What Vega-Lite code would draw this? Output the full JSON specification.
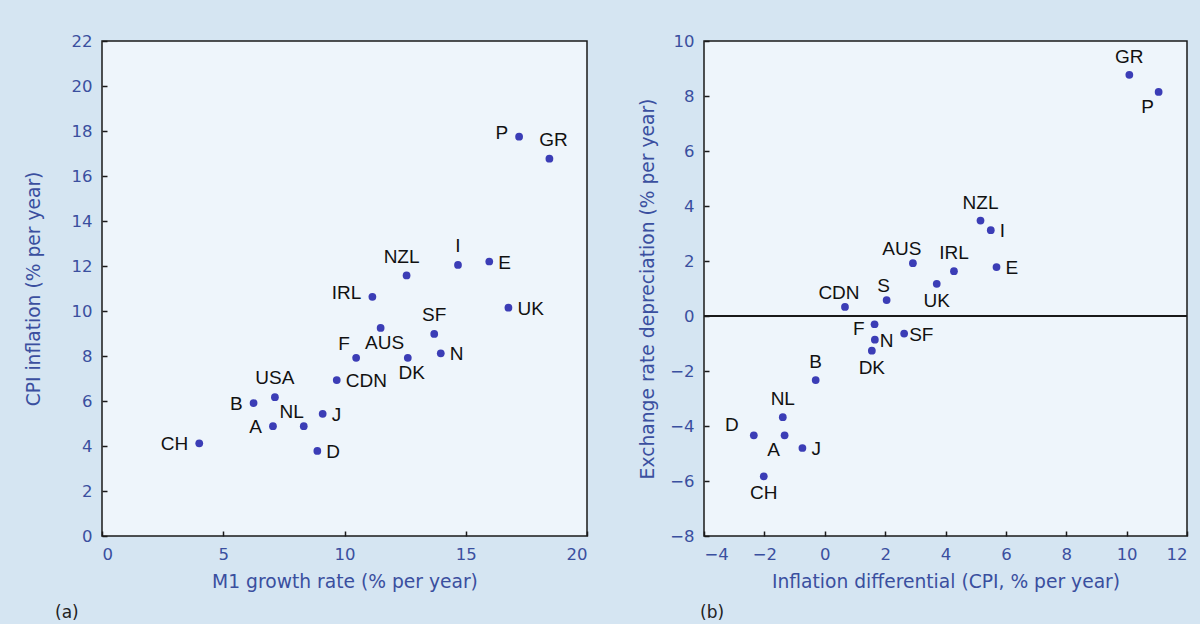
{
  "$schema": "https://vega.github.io/schema/vega-lite/v6.json",
  "background": "#d5e5f2",
  "padding": {"left": 23, "top": 32, "right": 11, "bottom": 2},
  "bounds": "flush",
  "spacing": 117,
  "datasets": {
    "a": [
      {"c": "P", "m1": 17.2, "cpi": 17.75},
      {"c": "GR", "m1": 18.45, "cpi": 16.77},
      {"c": "I", "m1": 14.68, "cpi": 12.05},
      {"c": "E", "m1": 15.97, "cpi": 12.2},
      {"c": "NZL", "m1": 12.56, "cpi": 11.58},
      {"c": "IRL", "m1": 11.15, "cpi": 10.63},
      {"c": "UK", "m1": 16.76, "cpi": 10.15},
      {"c": "AUS", "m1": 11.49, "cpi": 9.25},
      {"c": "SF", "m1": 13.7, "cpi": 8.98},
      {"c": "N", "m1": 13.97, "cpi": 8.12},
      {"c": "F", "m1": 10.48, "cpi": 7.92},
      {"c": "DK", "m1": 12.61, "cpi": 7.92},
      {"c": "CDN", "m1": 9.68, "cpi": 6.93},
      {"c": "USA", "m1": 7.13, "cpi": 6.17},
      {"c": "B", "m1": 6.25, "cpi": 5.91},
      {"c": "J", "m1": 9.1, "cpi": 5.43},
      {"c": "A", "m1": 7.05, "cpi": 4.88},
      {"c": "NL", "m1": 8.32, "cpi": 4.88},
      {"c": "CH", "m1": 4.01, "cpi": 4.12},
      {"c": "D", "m1": 8.88, "cpi": 3.78}
    ],
    "b": [
      {"c": "GR", "diff": 10.09, "dep": 8.77},
      {"c": "P", "diff": 11.06, "dep": 8.15},
      {"c": "NZL", "diff": 5.16, "dep": 3.47},
      {"c": "I", "diff": 5.5, "dep": 3.12},
      {"c": "AUS", "diff": 2.92, "dep": 1.92},
      {"c": "IRL", "diff": 4.28, "dep": 1.63},
      {"c": "E", "diff": 5.69, "dep": 1.78},
      {"c": "UK", "diff": 3.71, "dep": 1.17},
      {"c": "S", "diff": 2.05, "dep": 0.58},
      {"c": "CDN", "diff": 0.67, "dep": 0.33},
      {"c": "F", "diff": 1.65, "dep": -0.3},
      {"c": "SF", "diff": 2.63, "dep": -0.64},
      {"c": "N", "diff": 1.66, "dep": -0.86},
      {"c": "DK", "diff": 1.56, "dep": -1.26},
      {"c": "B", "diff": -0.3, "dep": -2.33},
      {"c": "NL", "diff": -1.39, "dep": -3.68},
      {"c": "D", "diff": -2.35, "dep": -4.34},
      {"c": "A", "diff": -1.33, "dep": -4.34},
      {"c": "J", "diff": -0.74, "dep": -4.8},
      {"c": "CH", "diff": -2.02, "dep": -5.83}
    ]
  },
  "config": {
    "view": {"fill": "#eef5fb", "stroke": "#1a1a1a", "strokeWidth": 1.5},
    "axis": {
      "grid": false,
      "domain": false,
      "offset": -5,
      "tickColor": "#1a1a1a",
      "tickSize": 5,
      "tickWidth": 1.5,
      "labelFont": "DejaVu Sans",
      "labelFontSize": 16.5,
      "labelColor": "#3a4f9f",
      "labelPadding": 10,
      "titleFont": "DejaVu Sans",
      "titleFontSize": 18.7,
      "titleFontWeight": "normal",
      "titleColor": "#3a4f9f"
    },
    "title": {"font": "DejaVu Sans", "fontSize": 17, "fontWeight": "normal", "color": "#222222"}
  },
  "hconcat": [
    {
      "width": 485,
      "height": 495,
      "data": {"name": "a"},
      "title": {"text": "(a)", "orient": "bottom", "anchor": "start", "frame": "group", "dx": -47, "offset": 14},
      "encoding": {
        "x": {"field": "m1", "type": "quantitative", "scale": {"domain": [0, 20], "nice": false, "zero": false},
              "axis": {"values": [0, 5, 10, 15, 20], "title": "M1 growth rate (% per year)", "titlePadding": 10}},
        "y": {"field": "cpi", "type": "quantitative", "scale": {"domain": [0, 22], "nice": false, "zero": false},
              "axis": {"values": [0, 2, 4, 6, 8, 10, 12, 14, 16, 18, 20, 22], "title": "CPI inflation (% per year)", "titlePadding": 28}}
      },
      "layer": [
        {"mark": {"type": "point", "filled": true, "size": 60, "color": "#3b3db6", "opacity": 1}},
        {"transform": [{"filter": {"field": "c", "oneOf": ["I", "SF", "USA"]}}],
         "mark": {"type": "text", "font": "Liberation Sans", "fontSize": 19, "color": "#111111", "align": "center", "baseline": "middle", "dy": -19},
         "encoding": {"text": {"field": "c"}}},
        {"transform": [{"filter": {"field": "c", "oneOf": ["GR"]}}],
         "mark": {"type": "text", "font": "Liberation Sans", "fontSize": 19, "color": "#111111", "align": "center", "baseline": "middle", "dy": -19, "dx": 4},
         "encoding": {"text": {"field": "c"}}},
        {"transform": [{"filter": {"field": "c", "oneOf": ["NZL"]}}],
         "mark": {"type": "text", "font": "Liberation Sans", "fontSize": 19, "color": "#111111", "align": "center", "baseline": "middle", "dy": -18, "dx": -5},
         "encoding": {"text": {"field": "c"}}},
        {"transform": [{"filter": {"field": "c", "oneOf": ["AUS", "DK"]}}],
         "mark": {"type": "text", "font": "Liberation Sans", "fontSize": 19, "color": "#111111", "align": "center", "baseline": "middle", "dy": 15, "dx": 4},
         "encoding": {"text": {"field": "c"}}},
        {"transform": [{"filter": {"field": "c", "oneOf": ["B", "A", "CH"]}}],
         "mark": {"type": "text", "font": "Liberation Sans", "fontSize": 19, "color": "#111111", "align": "right", "baseline": "middle", "dx": -11, "dy": 1},
         "encoding": {"text": {"field": "c"}}},
        {"transform": [{"filter": {"field": "c", "oneOf": ["P", "IRL"]}}],
         "mark": {"type": "text", "font": "Liberation Sans", "fontSize": 19, "color": "#111111", "align": "right", "baseline": "middle", "dx": -11, "dy": -4},
         "encoding": {"text": {"field": "c"}}},
        {"transform": [{"filter": {"field": "c", "oneOf": ["E", "UK", "N", "CDN", "J", "D"]}}],
         "mark": {"type": "text", "font": "Liberation Sans", "fontSize": 19, "color": "#111111", "align": "left", "baseline": "middle", "dx": 9, "dy": 1},
         "encoding": {"text": {"field": "c"}}},
        {"transform": [{"filter": {"field": "c", "oneOf": ["F", "NL"]}}],
         "mark": {"type": "text", "font": "Liberation Sans", "fontSize": 19, "color": "#111111", "align": "center", "baseline": "middle", "dx": -12, "dy": -14},
         "encoding": {"text": {"field": "c"}}}
      ]
    },
    {
      "width": 483,
      "height": 495,
      "data": {"name": "b"},
      "title": {"text": "(b)", "orient": "bottom", "anchor": "start", "frame": "group", "dx": -4, "offset": 14},
      "encoding": {
        "x": {"field": "diff", "type": "quantitative", "scale": {"domain": [-4, 12], "nice": false, "zero": false},
              "axis": {"values": [-4, -2, 0, 2, 4, 6, 8, 10, 12], "title": "Inflation differential (CPI, % per year)", "titlePadding": 10}},
        "y": {"field": "dep", "type": "quantitative", "scale": {"domain": [-8, 10], "nice": false, "zero": false},
              "axis": {"values": [-8, -6, -4, -2, 0, 2, 4, 6, 8, 10], "title": "Exchange rate depreciation (% per year)", "titlePadding": 12}}
      },
      "layer": [
        {"mark": {"type": "rule", "color": "#1a1a1a", "strokeWidth": 1.5}, "encoding": {"y": {"datum": 0}, "x": {"datum": -4}, "x2": {"datum": 12}}},
        {"mark": {"type": "point", "filled": true, "size": 60, "color": "#3b3db6", "opacity": 1}},
        {"transform": [{"filter": {"field": "c", "oneOf": ["GR", "NZL", "IRL", "B", "NL"]}}],
         "mark": {"type": "text", "font": "Liberation Sans", "fontSize": 19, "color": "#111111", "align": "center", "baseline": "middle", "dy": -18},
         "encoding": {"text": {"field": "c"}}},
        {"transform": [{"filter": {"field": "c", "oneOf": ["S"]}}],
         "mark": {"type": "text", "font": "Liberation Sans", "fontSize": 19, "color": "#111111", "align": "center", "baseline": "middle", "dy": -14, "dx": -3},
         "encoding": {"text": {"field": "c"}}},
        {"transform": [{"filter": {"field": "c", "oneOf": ["UK", "DK", "CH"]}}],
         "mark": {"type": "text", "font": "Liberation Sans", "fontSize": 19, "color": "#111111", "align": "center", "baseline": "middle", "dy": 17},
         "encoding": {"text": {"field": "c"}}},
        {"transform": [{"filter": {"field": "c", "oneOf": ["I", "E", "J"]}}],
         "mark": {"type": "text", "font": "Liberation Sans", "fontSize": 19, "color": "#111111", "align": "left", "baseline": "middle", "dx": 9, "dy": 1},
         "encoding": {"text": {"field": "c"}}},
        {"transform": [{"filter": {"field": "c", "oneOf": ["SF", "N"]}}],
         "mark": {"type": "text", "font": "Liberation Sans", "fontSize": 19, "color": "#111111", "align": "left", "baseline": "middle", "dx": 5, "dy": 1},
         "encoding": {"text": {"field": "c"}}},
        {"transform": [{"filter": {"field": "c", "oneOf": ["F"]}}],
         "mark": {"type": "text", "font": "Liberation Sans", "fontSize": 19, "color": "#111111", "align": "right", "baseline": "middle", "dx": -10, "dy": 5},
         "encoding": {"text": {"field": "c"}}},
        {"transform": [{"filter": {"field": "c", "oneOf": ["AUS"]}}],
         "mark": {"type": "text", "font": "Liberation Sans", "fontSize": 19, "color": "#111111", "align": "center", "baseline": "middle", "dx": -11, "dy": -14},
         "encoding": {"text": {"field": "c"}}},
        {"transform": [{"filter": {"field": "c", "oneOf": ["CDN"]}}],
         "mark": {"type": "text", "font": "Liberation Sans", "fontSize": 19, "color": "#111111", "align": "center", "baseline": "middle", "dx": -6, "dy": -14},
         "encoding": {"text": {"field": "c"}}},
        {"transform": [{"filter": {"field": "c", "oneOf": ["D"]}}],
         "mark": {"type": "text", "font": "Liberation Sans", "fontSize": 19, "color": "#111111", "align": "right", "baseline": "middle", "dx": -15, "dy": -10},
         "encoding": {"text": {"field": "c"}}},
        {"transform": [{"filter": {"field": "c", "oneOf": ["P", "A"]}}],
         "mark": {"type": "text", "font": "Liberation Sans", "fontSize": 19, "color": "#111111", "align": "center", "baseline": "middle", "dx": -11, "dy": 15},
         "encoding": {"text": {"field": "c"}}}
      ]
    }
  ]
}
